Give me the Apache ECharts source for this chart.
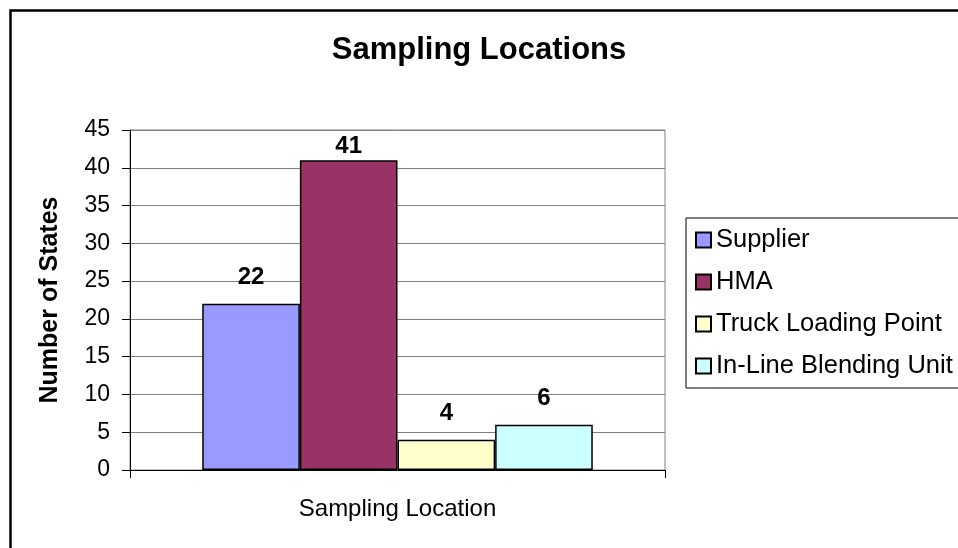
<!DOCTYPE html>
<html>
<head>
<meta charset="utf-8">
<script src="https://cdn.jsdelivr.net/npm/echarts@6/dist/echarts.min.js"></script>
<style>
html,body{margin:0;padding:0;background:#fff;}
#c{width:958px;height:548px;}
</style>
</head>
<body>
<div id="c"></div>
<script>
var categories = ['Sampling Location'];
var seriesNames = ['Supplier', 'HMA', 'Truck Loading Point', 'In-Line Blending Unit'];
var supplierValues = [22];
var hmaValues = [41];
var truckValues = [4];
var inlineValues = [6];
var yTicks = [0, 5, 10, 15, 20, 25, 30, 35, 40, 45];

var seriesValues = [supplierValues, hmaValues, truckValues, inlineValues];
var colors = ['#9999FF', '#993366', '#FFFFCC', '#CCFFFF'];
var FONT = "'Liberation Sans', Arial, sans-serif";

var chart = echarts.init(document.getElementById('c'), null, {renderer: 'canvas'});

var series = seriesNames.map(function (name, i) {
  return {
    name: name,
    type: 'bar',
    data: seriesValues[i],
    barGap: '0%',
    barCategoryGap: '27%',
    itemStyle: {color: colors[i], borderColor: '#000', borderWidth: 1.5},
    label: {
      show: true,
      position: 'top',
      distance: i === 1 ? 2 : 14,
      color: '#000',
      fontFamily: FONT,
      fontWeight: 'bold',
      fontSize: 24
    }
  };
});

chart.setOption({
  animation: false,
  backgroundColor: '#fff',
  title: {
    text: 'Sampling Locations',
    left: 'center',
    top: 30,
    textStyle: {fontFamily: FONT, fontWeight: 'bold', fontSize: 31, color: '#000'}
  },
  legend: {
    orient: 'vertical',
    left: 686,
    top: 218,
    itemWidth: 15,
    itemHeight: 15,
    itemGap: 16,
    padding: [9, 40, 9, 9],
    borderColor: '#000',
    borderWidth: 1,
    icon: 'rect',
    textStyle: {fontFamily: FONT, fontSize: 25.5, color: '#000'},
    data: seriesNames
  },
  grid: {
    left: 130, right: 293, top: 130, bottom: 78,
    show: true, borderColor: '#808080', borderWidth: 1
  },
  xAxis: {
    type: 'category',
    data: categories,
    axisLine: {lineStyle: {color: '#000', width: 1}},
    axisTick: {show: true, length: 8, lineStyle: {color: '#000'}},
    axisLabel: {margin: 27, fontFamily: FONT, fontSize: 24, color: '#000'}
  },
  yAxis: {
    type: 'value',
    min: yTicks[0],
    max: yTicks[yTicks.length - 1],
    interval: yTicks[1] - yTicks[0],
    name: 'Number of States',
    nameLocation: 'middle',
    nameGap: 67,
    nameTextStyle: {fontFamily: FONT, fontWeight: 'bold', fontSize: 25, color: '#000'},
    axisLine: {show: true, lineStyle: {color: '#000', width: 1}},
    axisTick: {show: true, length: 8, lineStyle: {color: '#000'}},
    axisLabel: {margin: 20, fontFamily: FONT, fontSize: 23, color: '#000'},
    splitLine: {show: true, lineStyle: {color: '#808080', width: 1}}
  },
  graphic: [{
    type: 'rect',
    silent: true,
    z: 100,
    shape: {x: 10.5, y: 10.5, width: 1000, height: 1000},
    style: {fill: 'none', stroke: '#000', lineWidth: 2.5}
  }],
  series: series
});
</script>
</body>
</html>
